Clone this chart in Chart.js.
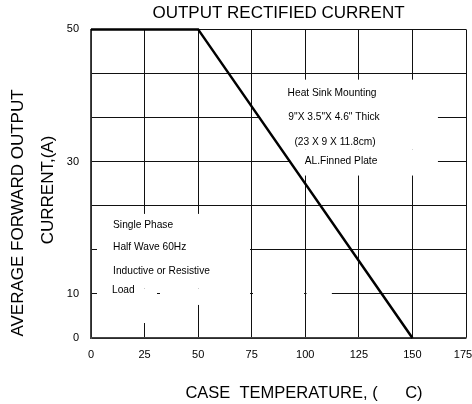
<!DOCTYPE html>
<html>
<head>
<meta charset="utf-8">
<script src="https://cdn.jsdelivr.net/npm/chart.js@4.4.1/dist/chart.umd.min.js"></script>
<style>body{margin:0;background:#fff}</style>
</head>
<body>
<canvas id="myChart" width="472" height="404"></canvas>
<script>
const temps = [0, 50, 150];
const current = [50, 50, 0];
const yGrid = [0, 10, 16.7, 23.3, 30, 36.7, 43.3, 50];
const yLabelled = [0, 10, 30, 50];

const heatSinkNote = ['Heat Sink Mounting', '9"X 3.5"X 4.6" Thick', '(23 X 9 X 11.8cm)', 'AL.Finned Plate'];
const heatSinkAt = [[112.5, 40.4], [113.4, 36.7], [113.9, 32.9], [116.7, 30]];
const phaseNote = ['Single Phase', 'Half Wave 60Hz', 'Inductive or Resistive', 'Load'];
const phaseAt = [[10.3, 20.4], [10.3, 17.1], [10.3, 13.5], [9.8, 10.6]];

// white areas behind the notes that cut the grid: [x0, x1, y0, y1]
const blanks = [
  [78.9, 161.9, 31.8, 42.4],
  [92.9, 161.9, 27.9, 31.8],
  [2.8, 74.2, 10.8, 22.1],
  [2.8, 30.8, 3.4, 10.8],
  [32.2, 74.2, 7.5, 10.8],
  [75.6, 99.4, 9.2, 10.8],
  [100.6, 112.4, 9.2, 10.8]
];

const FONT = "'Liberation Sans', Arial, sans-serif";

// y axis: 0-10 takes one grid step, 10-50 takes six
const frac = v => v <= 10 ? v / 70 : (1 + (v - 10) * 6 / 40) / 7;
const unfrac = f => f * 7 <= 1 ? f * 70 : 10 + (f * 7 - 1) * 40 / 6;

class BrokenScale extends Chart.LinearScale {
  getPixelForValue(v) {
    return v === null ? NaN : this.getPixelForDecimal(frac(v));
  }
  getValueForPixel(p) {
    return unfrac(this.getDecimalForPixel(p));
  }
}
BrokenScale.id = 'broken';
BrokenScale.defaults = Chart.LinearScale.defaults;
Chart.register(BrokenScale);

const notesPlugin = {
  id: 'notes',
  beforeDatasetsDraw(chart) {
    const { ctx, scales: { x, y } } = chart;
    ctx.save();
    ctx.fillStyle = '#fff';
    blanks.forEach(([x0, x1, y0, y1]) => {
      const l = x.getPixelForValue(x0), r = x.getPixelForValue(x1);
      const t = y.getPixelForValue(y1), b = y.getPixelForValue(y0);
      ctx.fillRect(l, t, r - l, b - t);
    });
    ctx.restore();
  },
  afterDraw(chart) {
    const { ctx, chartArea, scales: { x, y } } = chart;
    ctx.save();
    ctx.fillStyle = '#000';
    ctx.textBaseline = 'middle';
    ctx.font = '10.2px ' + FONT;
    ctx.textAlign = 'center';
    heatSinkNote.forEach((t, i) => {
      ctx.fillText(t, x.getPixelForValue(heatSinkAt[i][0]), y.getPixelForValue(heatSinkAt[i][1]));
    });
    ctx.textAlign = 'left';
    phaseNote.forEach((t, i) => {
      ctx.fillText(t, x.getPixelForValue(phaseAt[i][0]), y.getPixelForValue(phaseAt[i][1]));
    });

    ctx.font = '16.5px ' + FONT;
    ctx.textAlign = 'center';
    ctx.fillText('CASE  TEMPERATURE, (      C)', chartArea.left + 213, chartArea.bottom + 55);

    ctx.font = '17px ' + FONT;
    ctx.translate(18, 213);
    ctx.rotate(-Math.PI / 2);
    ctx.fillText('AVERAGE FORWARD OUTPUT', 0, 0);
    ctx.rotate(Math.PI / 2);
    ctx.translate(30, -23);
    ctx.rotate(-Math.PI / 2);
    ctx.fillText('CURRENT,(A)', 0, 0);
    ctx.restore();
  }
};

const ctx = document.getElementById('myChart').getContext('2d');
new Chart(ctx, {
  type: 'line',
  data: {
    datasets: [{
      data: temps.map((t, i) => ({ x: t, y: current[i] })),
      borderColor: '#000',
      borderWidth: 2.5,
      pointRadius: 0,
      fill: false,
      tension: 0,
      clip: false
    }]
  },
  options: {
    responsive: false,
    animation: false,
    devicePixelRatio: 1,
    layout: { padding: { left: 0, right: 6, top: 0, bottom: 0 } },
    scales: {
      x: {
        type: 'linear',
        min: 0,
        max: 175,
        ticks: {
          stepSize: 25,
          padding: 10,
          color: '#000',
          maxRotation: 0,
          autoSkip: false,
          font: { family: FONT, size: 11 },
          // last label sits inside the canvas edge
          callback: v => v === 175 ? '175\u00a0\u00a0' : String(v)
        },
        grid: { color: '#111', drawTicks: false },
        border: { color: '#444', width: 1.5 },
        afterFit: s => { s.height = 66; s.paddingLeft = 0; s.paddingRight = 0; }
      },
      y: {
        type: 'broken',
        min: 0,
        max: 50,
        afterBuildTicks: s => { s.ticks = yGrid.map(v => ({ value: v })); },
        ticks: {
          autoSkip: false,
          padding: 12,
          color: '#000',
          font: { family: FONT, size: 11 },
          callback: v => yLabelled.includes(v) ? String(v) : ''
        },
        grid: { color: '#111', drawTicks: false },
        border: { color: '#444', width: 1.5 },
        afterFit: s => { s.width = 91; s.paddingTop = 0; s.paddingBottom = 0; }
      }
    },
    plugins: {
      legend: { display: false },
      tooltip: { enabled: false },
      title: {
        display: true,
        text: 'OUTPUT RECTIFIED CURRENT',
        fullSize: false,
        color: '#000',
        font: { family: FONT, size: 17, weight: 'normal' },
        padding: { top: 3, bottom: 6 }
      }
    }
  },
  plugins: [notesPlugin]
});
</script>
</body>
</html>
